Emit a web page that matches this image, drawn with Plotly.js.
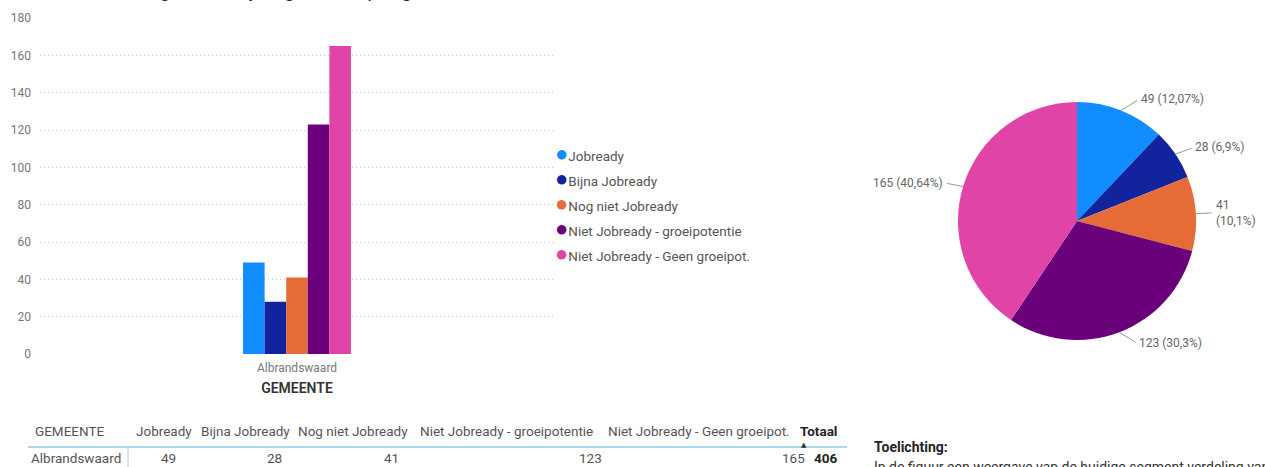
<!DOCTYPE html>
<html><head><meta charset="utf-8">
<script src="https://cdn.plot.ly/plotly-3.0.1.min.js"></script>
<style>html,body{margin:0;padding:0;overflow:hidden;background:#fff}#chart{width:1265px;height:467px;overflow:hidden}</style>
</head><body><div id="chart"></div>
<script>
// ---- data ----
const gemeenten = ['Albrandswaard'];
const segmenten = ['Jobready','Bijna Jobready','Nog niet Jobready','Niet Jobready - groeipotentie','Niet Jobready - Geen groeipot.'];
const waarden = [49, 28, 41, 123, 165];
const kleuren = ['#118DFF','#12239E','#E66C37','#6B007B','#E044A7'];
const yTickVals = [0, 20, 40, 60, 80, 100, 120, 140, 160, 180];
const xTitel = 'GEMEENTE';
const tabelKolomTotaal = 'Totaal';
const titel = 'Verdeling Jobready segmenten per gemeente';
const toelichtingKop = 'Toelichting:';
const toelichtingTekst = 'In de figuur een weergave van de huidige segment verdeling van de gemeente Albrandswaard.';

// ---- helpers ----
const W = 1265, H = 467;
const px = x => x / W;
const py = y => 1 - y / H;
const FONT = 'Roboto, "Open Sans", sans-serif';
const totaal = waarden.reduce((a, b) => a + b, 0);
const fmtPct = v => {
  let s = (v / totaal * 100).toFixed(2);
  s = s.replace(/0+$/, '').replace(/\.$/, '');
  return s.replace('.', ',') + '%';
};

// pie geometry (pixels)
const pie = {x0: 957, x1: 1197, y0: 102, y1: 340};
const pcx = (pie.x0 + pie.x1) / 2, pcy = (pie.y0 + pie.y1) / 2;
const pr = Math.min(pie.x1 - pie.x0, pie.y1 - pie.y0) / 2;

// ---- traces ----
const traces = segmenten.map((s, i) => ({
  type: 'bar', x: gemeenten, y: [waarden[i]], name: s,
  marker: {color: kleuren[i]}, showlegend: false,
  xaxis: 'x', yaxis: 'y', hoverinfo: 'name+y'
}));
traces.push({
  type: 'pie', labels: segmenten, values: waarden, sort: false,
  direction: 'clockwise', rotation: 0,
  marker: {colors: kleuren, line: {width: 0}},
  textinfo: 'none',
  domain: {x: [px(pie.x0), px(pie.x1)], y: [py(pie.y1), py(pie.y0)]},
  showlegend: false, hoverinfo: 'label+value+percent'
});

// ---- annotations ----
const ann = [];
ann.push({text: titel, xref: 'paper', yref: 'paper', x: px(85), y: py(4), xanchor: 'left', yanchor: 'bottom',
  showarrow: false, font: {family: FONT, size: 20, color: '#252423'}});
// legend
segmenten.forEach((s, i) => ann.push({
  text: '<span style="color:' + kleuren[i] + ';font-size:22px">●</span>' + s,
  xref: 'paper', yref: 'paper', x: px(553), y: py(153 + 25.2 * i), xanchor: 'left', yanchor: 'middle',
  showarrow: false, font: {family: FONT, size: 13.5, color: '#555'}
}));
// pie labels with leader lines (computed from the values)
let cum = 0;
waarden.forEach((v, i) => {
  const th = (cum + v / 2) / totaal * 2 * Math.PI;
  cum += v;
  const s = Math.sin(th), c = Math.cos(th);
  const Px = pcx + pr * s, Py = pcy - pr * c;
  const right = s >= 0;
  let txt = v + ' (' + fmtPct(v) + ')';
  const estEnd = Px + 18 + txt.length * 7;
  if (right && estEnd > W - 4) txt = v + '<br>(' + fmtPct(v) + ')';
  ann.push({text: txt, xref: 'paper', yref: 'paper', x: px(Px), y: py(Py),
    ax: right ? 18 : -18, ay: -c * 12, xanchor: right ? 'left' : 'right', yanchor: 'middle', align: 'left',
    showarrow: true, arrowhead: 0, arrowwidth: 1, arrowcolor: '#9a9a9a', standoff: 0, startstandoff: 2,
    font: {family: FONT, size: 12, color: '#666'}});
});
// table
const TF = 13.5;
const headY = 431, rowY = 458;
const headX = [134, 199, 296, 418, 606];
const valRight = [178, 284, 401, 604, 807];
ann.push({text: xTitel, xref: 'paper', yref: 'paper', x: px(33), y: py(headY), xanchor: 'left', yanchor: 'middle',
  showarrow: false, font: {family: FONT, size: TF, color: '#555'}});
segmenten.forEach((s, i) => ann.push({text: s, xref: 'paper', yref: 'paper', x: px(headX[i]), y: py(headY),
  xanchor: 'left', yanchor: 'middle', showarrow: false, font: {family: FONT, size: TF, color: '#555'}}));
ann.push({text: tabelKolomTotaal, xref: 'paper', yref: 'paper', x: px(839), y: py(headY), xanchor: 'right', yanchor: 'middle',
  showarrow: false, font: {family: FONT, size: TF, color: '#252423', weight: 700}});
ann.push({text: '▲', xref: 'paper', yref: 'paper', x: px(804), y: py(445), xanchor: 'center', yanchor: 'middle',
  showarrow: false, font: {family: 'DejaVu Sans', size: 7, color: '#333'}});
ann.push({text: gemeenten[0], xref: 'paper', yref: 'paper', x: px(29), y: py(rowY), xanchor: 'left', yanchor: 'middle',
  showarrow: false, font: {family: FONT, size: TF, color: '#555'}});
waarden.forEach((v, i) => ann.push({text: String(v), xref: 'paper', yref: 'paper', x: px(valRight[i]), y: py(rowY),
  xanchor: 'right', yanchor: 'middle', showarrow: false, font: {family: FONT, size: TF, color: '#555'}}));
ann.push({text: String(totaal), xref: 'paper', yref: 'paper', x: px(839), y: py(rowY), xanchor: 'right', yanchor: 'middle',
  showarrow: false, font: {family: FONT, size: TF, color: '#252423', weight: 700}});
// toelichting
ann.push({text: '<b>' + toelichtingKop + '</b>', xref: 'paper', yref: 'paper', x: px(872), y: py(447), xanchor: 'left', yanchor: 'middle',
  showarrow: false, font: {family: FONT, size: 14, color: '#252423'}});
ann.push({text: toelichtingTekst, xref: 'paper', yref: 'paper', x: px(872), y: py(457), xanchor: 'left', yanchor: 'top',
  showarrow: false, font: {family: FONT, size: 14, color: '#333'}});

const shapes = [
  {type: 'line', xref: 'paper', yref: 'paper', x0: px(28), x1: px(847), y0: py(447), y1: py(447), line: {color: '#8ec9ea', width: 1.5}},
  {type: 'line', xref: 'paper', yref: 'paper', x0: px(128), x1: px(128), y0: py(447), y1: py(467), line: {color: '#b5cfe0', width: 1}}
];

const layout = {
  width: W, height: H, margin: {l: 0, r: 0, t: 0, b: 0},
  paper_bgcolor: '#fff', plot_bgcolor: '#fff',
  font: {family: FONT, color: '#777'},
  bargap: 0.79, bargroupgap: 0, barmode: 'group',
  xaxis: {domain: [px(40), px(554)], anchor: 'y', showgrid: false, zeroline: false, showline: false, ticks: '',
    tickfont: {family: FONT, size: 12, color: '#777'}, ticklabelstandoff: 5,
    title: {text: xTitel, font: {family: FONT, size: 14, color: '#333', weight: 600}, standoff: 9}},
  yaxis: {domain: [py(354), py(18)], anchor: 'x', range: [0, 180], tickvals: yTickVals, showgrid: true,
    gridcolor: '#c8c8c8', griddash: '1px,3px', gridwidth: 1, zeroline: false, showline: false, ticks: '',
    tickfont: {family: FONT, size: 12, color: '#777'}, ticklabelstandoff: 8},
  annotations: ann, shapes: shapes, showlegend: false
};
Plotly.newPlot('chart', traces, layout, {displayModeBar: false, staticPlot: true});
</script></body></html>
